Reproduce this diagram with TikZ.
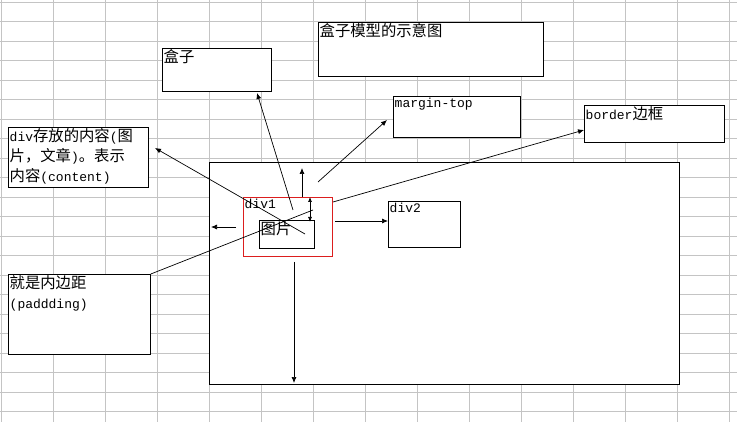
\documentclass[tikz,border=0pt]{standalone}
\usepackage{fontspec}
\newfontfamily\cjk[Scale=1.18]{Noto Sans CJK SC}
\newfontfamily\lat{Liberation Mono}
\usetikzlibrary{arrows.meta}
\definecolor{gridline}{RGB}{196, 196, 196}
\definecolor{boxred}{RGB}{220, 30, 30}

\tikzset{
  note/.style={draw, fill=white, line width=0.8pt, anchor=north west,
               inner sep=0pt},
  notetext/.style={anchor=north west, inner sep=1.5pt, align=left,
                font=\fontsize{13}{20}\selectfont},
  pointer/.style={-{Latex[length=6pt, width=5pt]}, line width=0.7pt}
}

\begin{document}
\begin{tikzpicture}[x=1pt, y=-1pt]

  \useasboundingbox (0, 0) rectangle (737, 422);
  \fill[white] (0, 0) rectangle (737, 422);

  % sheet grid
  \foreach \gx in {1, 53, ..., 737} {
    \draw[gridline, line width=0.6pt] (\gx, 0) -- (\gx, 422);
  }
  \foreach \gy in {2, 21.5, ..., 422} {
    \draw[gridline, line width=0.6pt] (0, \gy) -- (737, \gy);
  }

  % boxes
  \node[note, minimum width=225, minimum height=54] (title) at (318, 22) {};
  \node[notetext] at (title.north west) {\cjk 盒子模型的示意图};

  \node[note, minimum width=109, minimum height=43] (box) at (162, 48) {};
  \node[notetext] at (box.north west) {\cjk 盒子};

  \node[note, minimum width=127, minimum height=41] (margin) at (393, 96) {};
  \node[notetext] at (margin.north west) {\lat margin-top};

  \node[note, minimum width=140, minimum height=37] (border) at (584, 105) {};
  \node[notetext] at (border.north west) {\lat border\cjk 边框};

  \node[note, minimum width=140, minimum height=60] (content) at (8, 127) {};
  \node[notetext] at (content.north west)
    {\lat div\cjk 存放的内容\lat(\cjk 图\\\cjk 片，文章\lat)\cjk 。表示\\\cjk 内容\lat(content)};

  \node[note, minimum width=142, minimum height=80] (padding) at (8, 274) {};
  \node[notetext] at (padding.north west) {\cjk 就是内边距\\\lat(paddding)};

  \node[note, minimum width=470, minimum height=222] (outer) at (209, 162) {};

  \node[note, draw=boxred, minimum width=89, minimum height=59] (div1) at (243, 197) {};
  \node[notetext] at (div1.north west) {\lat div1};

  \node[note, minimum width=55, minimum height=28] (pic) at (259, 220) {};
  \node[notetext] at (pic.north west) {\cjk 图片};

  \node[note, minimum width=72, minimum height=46] (div2) at (388, 201) {};
  \node[notetext] at (div2.north west) {\lat div2};

  % connectors
  \coordinate (p1) at (293, 210);
  \coordinate (p2) at (305, 234);
  \coordinate (p3) at (318, 182);
  \coordinate (p4) at (333, 202);
  \coordinate (p5) at (313, 210);
  \coordinate (p6) at (302, 197);
  \coordinate (p7) at (302, 168);
  \coordinate (p8) at (236, 227);
  \coordinate (p9) at (211, 227);
  \coordinate (p10) at (335, 221);
  \coordinate (p11) at (294, 262);
  \coordinate (p12) at (294, 383);

  \draw[pointer] (p1) -- (257, 93);
  \draw[pointer] (p2) -- (155, 148);
  \draw[pointer] (p3) -- (387, 120);
  \draw[pointer] (p4) -- (584, 130);
  \draw[line width=0.7pt] (padding.north east) -- (p5);
  \draw[pointer] (p6) -- (p7);
  \draw[{Latex[length=5pt, width=4pt]}-{Latex[length=5pt, width=4pt]}, line width=0.7pt]
    (310, 197) -- (310, 222);
  \draw[pointer] (p8) -- (p9);
  \draw[pointer] (p10) -- (div2.west |- p10);
  \draw[pointer] (p11) -- (p12);

\end{tikzpicture}
\end{document}
